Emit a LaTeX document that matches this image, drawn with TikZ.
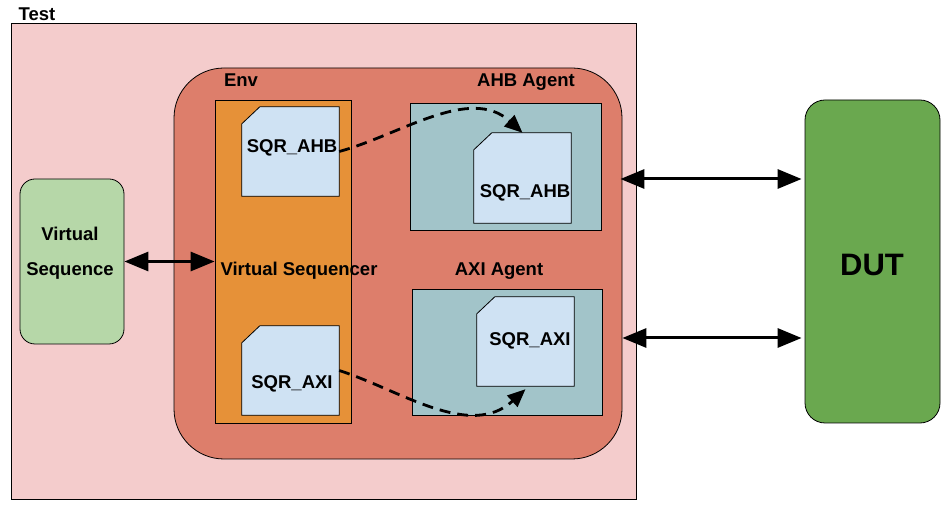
\documentclass[tikz,border=0pt]{standalone}
\usepackage{fontspec}
\setmainfont{Liberation Sans}
\usepackage{xcolor}
\usetikzlibrary{positioning, arrows.meta}

\definecolor{testpink}{HTML}{F4CCCC}
\definecolor{envred}{HTML}{DD7E6B}
\definecolor{seqorange}{HTML}{E69138}
\definecolor{cardblue}{HTML}{CFE2F3}
\definecolor{agentteal}{HTML}{A2C4C9}
\definecolor{vseqgreen}{HTML}{B6D7A8}
\definecolor{dutgreen}{HTML}{6AA84F}

\begin{document}
\begin{tikzpicture}[
        x=1pt, y=-1pt,
        box_style/.style={draw=black, line width=0.8pt, inner sep=0pt},
        card_style/.style={draw=black, line width=0.8pt, fill=cardblue},
        title_style/.style={anchor=base, inner sep=0pt, font=\fontsize{18.5}{22}\selectfont\bfseries},
        bus_arrow/.style={line width=3pt, {Triangle[length=24pt,width=19pt]}-{Triangle[length=24pt,width=19pt]}},
        seq_arrow/.style={line width=2.8pt, dash pattern=on 11pt off 7pt, -{Triangle[length=18pt,width=15pt]}}
    ]
        \useasboundingbox (0,0) rectangle (951,510);

        % Containers
        \node[box_style, fill=testpink, minimum width=625pt, minimum height=476pt] (test) at (323.5,261) {};
        \node[box_style, fill=envred, rounded corners=50pt, minimum width=448pt, minimum height=391pt] (env) at (398,263.5) {};
        \node[box_style, fill=seqorange, minimum width=136pt, minimum height=323pt] (vsqr) at (283,261.5) {};
        \node[box_style, fill=agentteal, minimum width=191pt, minimum height=127pt] (ahb) at (505.5,166.5) {};
        \node[box_style, fill=agentteal, minimum width=190pt, minimum height=126pt] (axi) at (507,352) {};
        \node[box_style, fill=vseqgreen, rounded corners=15pt, minimum width=104pt, minimum height=165pt] (vseq) at (72,261.5) {};
        \node[box_style, fill=dutgreen, rounded corners=20pt, minimum width=135pt, minimum height=323pt] (dut) at (872.5,261.5) {};

        % Sequencer cards (cut corner)
        \node[inner sep=0pt, minimum width=97pt, minimum height=89pt] (lahb) at (290.5,151.5) {};
        \node[inner sep=0pt, minimum width=97pt, minimum height=89pt] (laxi) at (290.5,370.5) {};
        \node[inner sep=0pt, minimum width=97pt, minimum height=90pt] (rahb) at (522.5,178) {};
        \node[inner sep=0pt, minimum width=97pt, minimum height=89pt] (raxi) at (525.5,341.5) {};
        \draw[card_style] ([xshift=18pt]lahb.north west) -- (lahb.north east) -- (lahb.south east) -- (lahb.south west) -- ([yshift=-17pt]lahb.north west) -- cycle;
        \draw[card_style] ([xshift=18pt]laxi.north west) -- (laxi.north east) -- (laxi.south east) -- (laxi.south west) -- ([yshift=-17pt]laxi.north west) -- cycle;
        \draw[card_style] ([xshift=18pt]rahb.north west) -- (rahb.north east) -- (rahb.south east) -- (rahb.south west) -- ([yshift=-17pt]rahb.north west) -- cycle;
        \draw[card_style] ([xshift=18pt]raxi.north west) -- (raxi.north east) -- (raxi.south east) -- (raxi.south west) -- ([yshift=-17pt]raxi.north west) -- cycle;

        % Labels
        \node[title_style] (testlbl) at (37,21) {Test};
        \node[title_style] (envlbl) at (241,86.5) {Env};
        \node[title_style] (ahblbl) at (526,87) {AHB Agent};
        \node[title_style] (axilbl) at (499,276) {AXI Agent};
        \node[title_style] (vsqrlbl) at (299,276) {Virtual Sequencer};
        \node[title_style] (lahblbl) at (292,153) {SQR\_AHB};
        \node[title_style] (laxilbl) at (292,389) {SQR\_AXI};
        \node[title_style] (rahblbl) at (525,198) {SQR\_AHB};
        \node[title_style] (raxilbl) at (530,345.5) {SQR\_AXI};
        \node[title_style, align=center, font=\fontsize{18.5}{35}\selectfont\bfseries] (vseqlbl) at (70,276) {Virtual\\Sequence};
        \node[title_style, font=\fontsize{31}{36}\selectfont\bfseries] (dutlbl) at (872,276) {DUT};

        % Connections
        \draw[bus_arrow] (vseq.east) -- (vsqr.west);
        \draw[bus_arrow, shorten <=-2pt, shorten >=3pt] (env.east |- 0,179) -- (dut.west |- 0,179);
        \draw[bus_arrow, shorten >=3pt] (env.east |- 0,338) -- (dut.west |- 0,338);
        \draw[seq_arrow] (lahb.east) .. controls (400,135) and (470,85) .. (rahb.north);
        \draw[seq_arrow] (laxi.east) .. controls (400,390) and (470,440) .. ([yshift=-3pt]raxi.south);
    \end{tikzpicture}
\end{document}
